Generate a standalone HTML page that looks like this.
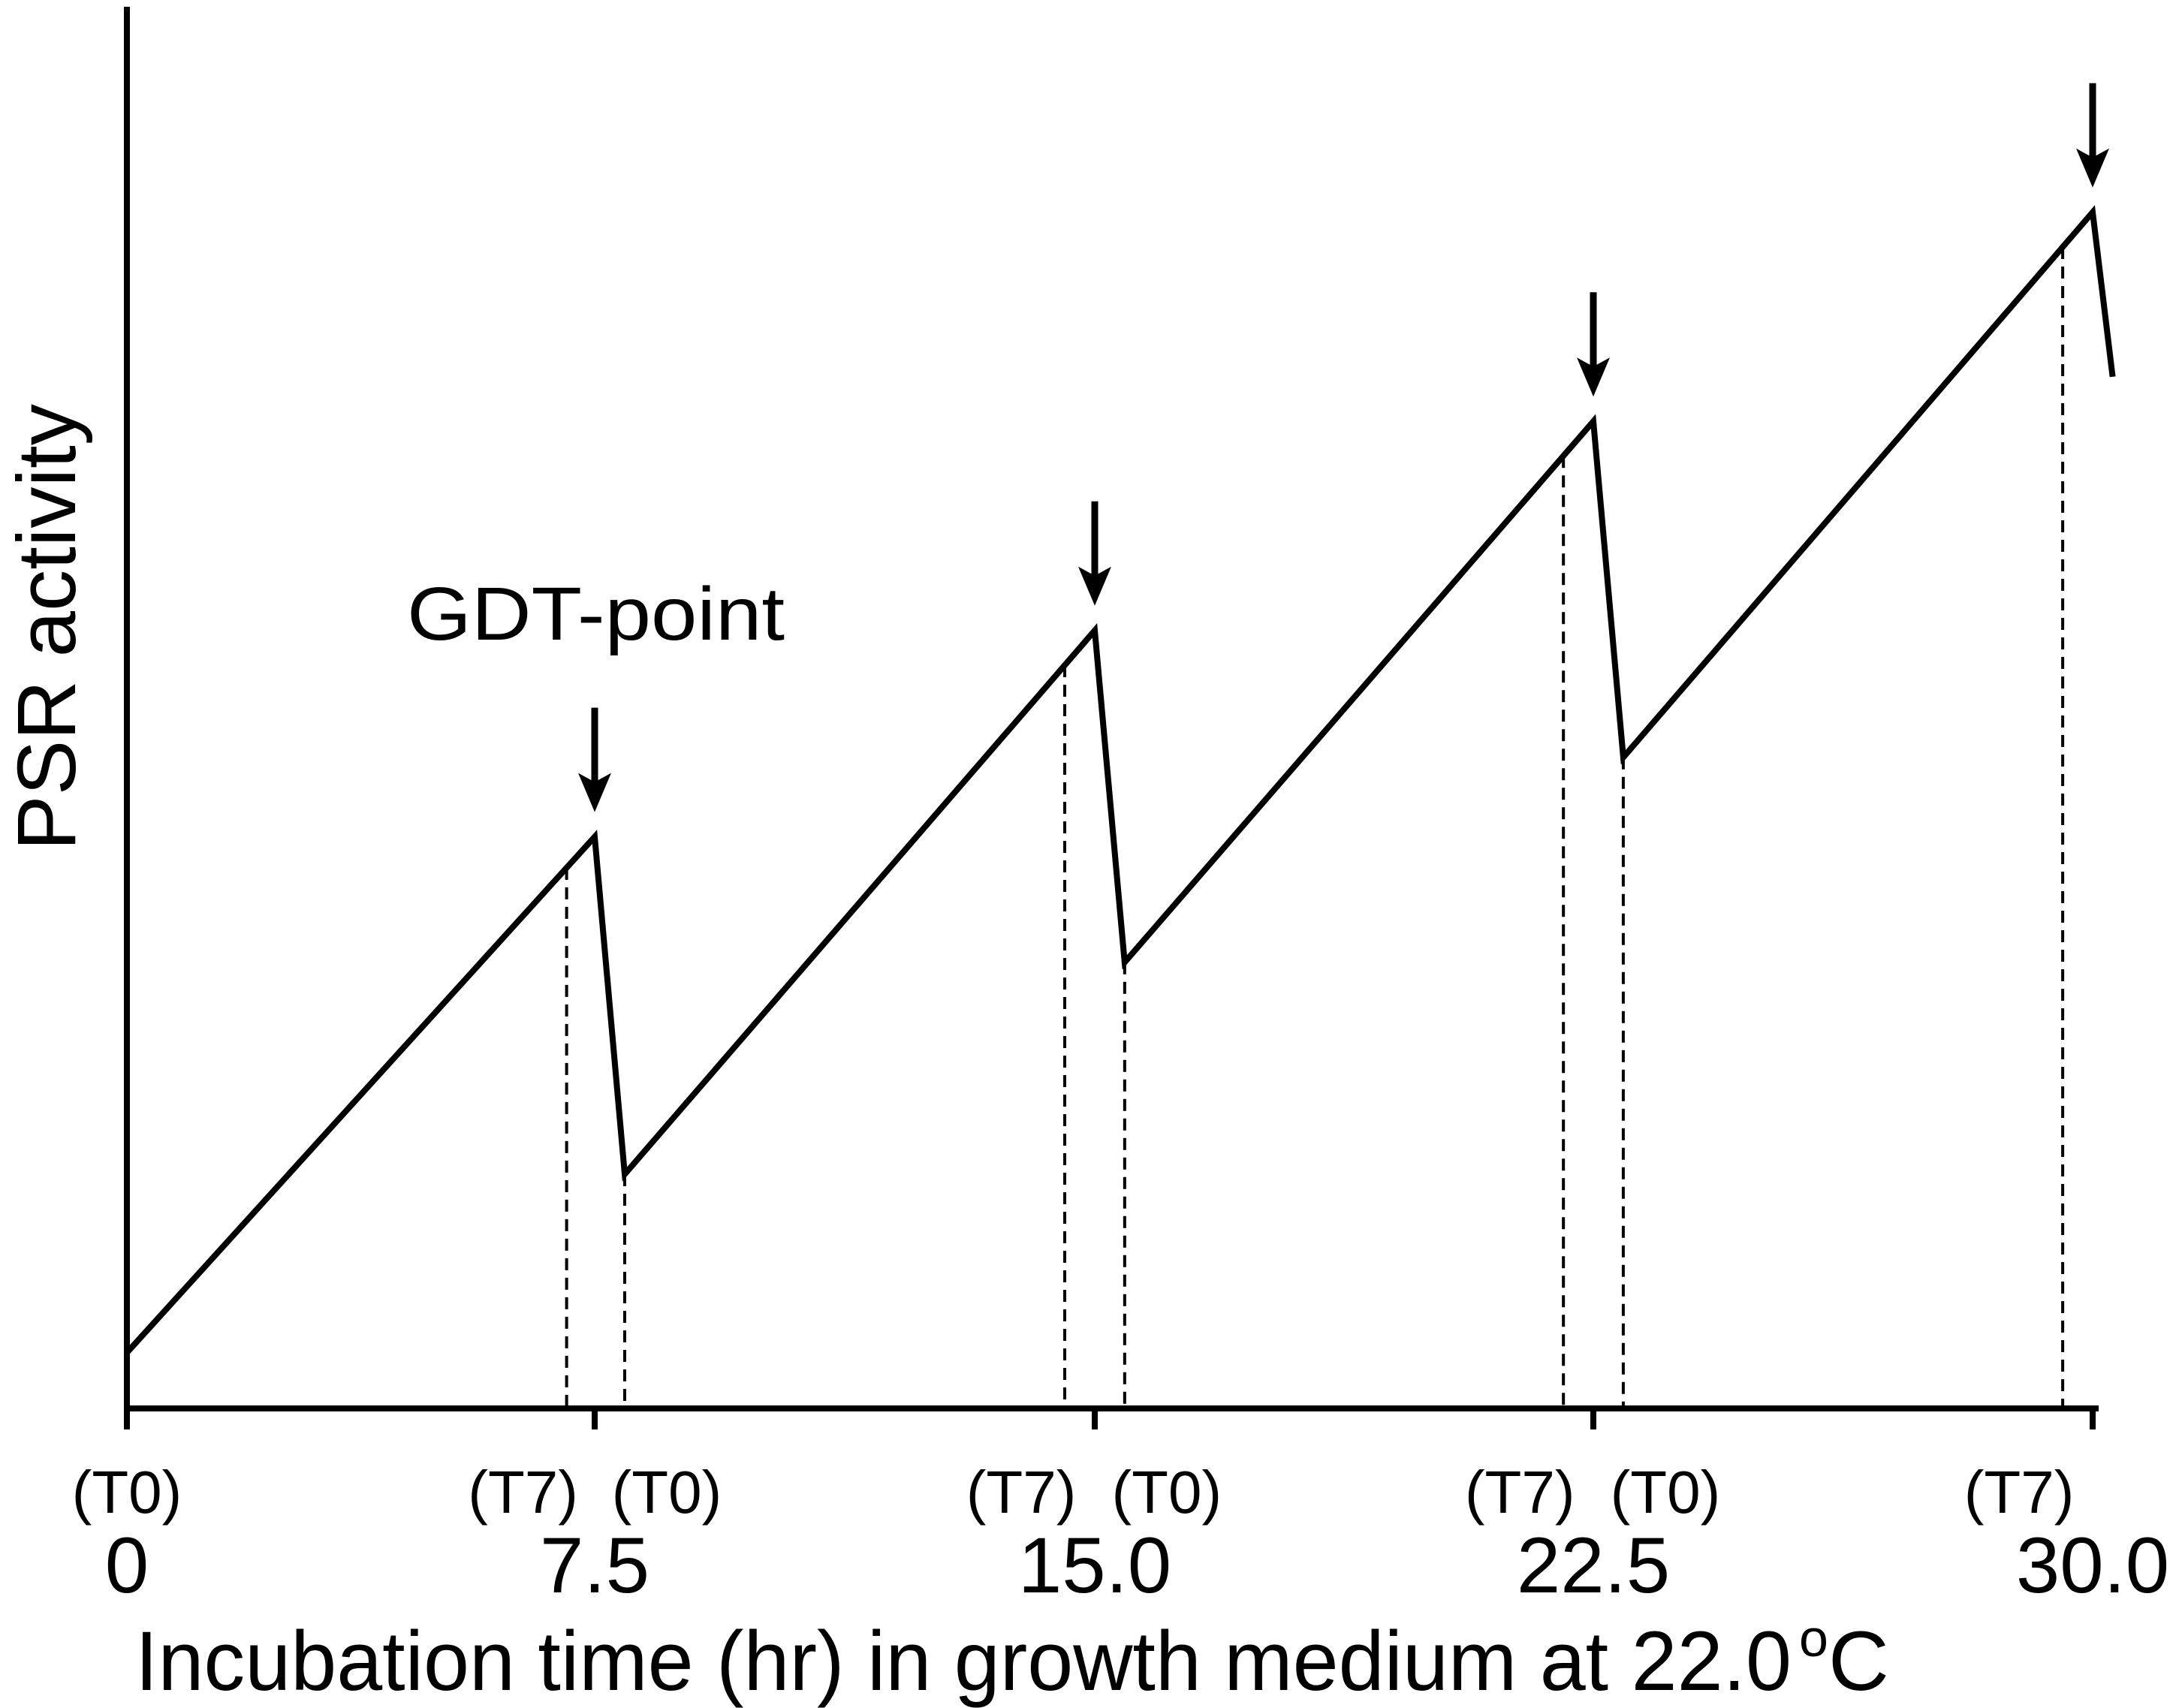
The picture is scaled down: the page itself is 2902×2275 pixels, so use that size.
<!DOCTYPE html>
<html><head><meta charset="utf-8"><style>
html,body{margin:0;padding:0;background:#fff;}
svg{display:block;font-family:"Liberation Sans",Arial,sans-serif;}
</style></head><body>
<svg id="chart" width="2902" height="2275" viewBox="0 0 2902 2275" xmlns="http://www.w3.org/2000/svg">
<g id="axes"></g>
<g id="marks"></g>
<g id="labels"></g>
</svg>
<script>
// ---- data ----
var tickHours = [0, 7.5, 15, 22.5, 30];
var tickLabels = ["0", "7.5", "15.0", "22.5", "30.0"];
var seriesTimes = [0, 7.5, 7.95, 15, 15.45, 22.5, 22.95, 30, 30.3];
var seriesValues = [4.0, 41.0, 16.8, 55.8, 32.0, 70.8, 46.7, 85.8, 74.0];
var t7Times = [7.05, 14.55, 22.05, 29.55];
var t0Times = [0, 7.95, 15.45, 22.95];
var gdtTimes = [7.5, 15, 22.5, 30];
var gdtValues = [41.0, 55.8, 70.8, 85.8];

// ---- scales ----
var tickPx = [169, 792, 1458, 2122, 2787];
function xs(t){
  for (var i=0;i<tickHours.length-1;i++){
    if (t<=tickHours[i+1] || i==tickHours.length-2){
      var a=tickHours[i], b=tickHours[i+1];
      return tickPx[i] + (t-a)/(b-a)*(tickPx[i+1]-tickPx[i]);
    }
  }
}
var AXIS_Y = 1876;
function ys(v){ return AXIS_Y - v*18.57; }
function valueAt(t){
  for (var i=0;i<seriesTimes.length-1;i++){
    if (t>=seriesTimes[i] && t<=seriesTimes[i+1]){
      var f=(t-seriesTimes[i])/(seriesTimes[i+1]-seriesTimes[i]);
      return seriesValues[i]+f*(seriesValues[i+1]-seriesValues[i]);
    }
  }
  return seriesValues[0];
}
var NS="http://www.w3.org/2000/svg";
function mk(tag, attrs, parent){
  var e=document.createElementNS(NS, tag);
  for (var k in attrs) e.setAttribute(k, attrs[k]);
  parent.appendChild(e); return e;
}
var axes=document.getElementById('axes'), marks=document.getElementById('marks'), labels=document.getElementById('labels');

// axes
var ya = mk('line',{x1:169,y1:9,x2:169,y2:1904,stroke:'#000','stroke-width':8},axes);


var xa = mk('line',{x1:165,y1:AXIS_Y,x2:2795,y2:AXIS_Y,stroke:'#000','stroke-width':8},axes);


for (var i=0;i<tickHours.length;i++){
  var x=xs(tickHours[i]);
  var tk=mk('line',{x1:x,y1:AXIS_Y,x2:x,y2:1904,stroke:'#000','stroke-width':8},axes);
  
  
  var tl=mk('text',{x:x,y:2121,'font-size':105,'text-anchor':'middle',fill:'#000'},labels);
  tl.textContent=tickLabels[i];
  
  
}

// dashed guides
function guide(t, name, lab, anchorDx){
  var x=xs(t);
  if (t>0){
    var d=mk('line',{x1:x,y1:ys(valueAt(t)),x2:x,y2:AXIS_Y,stroke:'#000','stroke-width':4,'stroke-dasharray':'16 10'},marks);
    
    
  }
  var l=mk('text',{x:x+anchorDx,y:2015,'font-size':80,'text-anchor':'middle',fill:'#000'},labels);
  l.textContent=lab;
  
  
}
for (var i=0;i<t7Times.length;i++) guide(t7Times[i],'t7','(T7)',-58);
for (var i=0;i<t0Times.length;i++) guide(t0Times[i],'t0','(T0)', i==0 ? 0 : 56);

// series line
var pts=[];
for (var i=0;i<seriesTimes.length;i++) pts.push(xs(seriesTimes[i]).toFixed(1)+','+ys(seriesValues[i]).toFixed(1));
var pl=mk('polyline',{points:pts.join(' '),fill:'none',stroke:'#000','stroke-width':8,'stroke-linejoin':'miter','stroke-miterlimit':10},marks);



// arrows
for (var i=0;i<gdtTimes.length;i++){
  var ax=xs(gdtTimes[i]), py=ys(gdtValues[i]);
  var tipY=py-33, shaftTop=py-172;
  var g=mk('g',{},marks);
  
  
  mk('line',{x1:ax,y1:shaftTop,x2:ax,y2:tipY-30,stroke:'#000','stroke-width':9},g);
  mk('path',{d:'M'+(ax-22)+','+(tipY-52)+' L'+ax+','+tipY+' L'+(ax+22)+','+(tipY-52)+' L'+ax+','+(tipY-40)+' Z',fill:'#000'},g);
}
</script>
<svg style="position:absolute;left:0;top:0" width="2902" height="2275" xmlns="http://www.w3.org/2000/svg" font-family="Liberation Sans, Arial, sans-serif">
<text x="542" y="852" font-size="100" textLength="503" lengthAdjust="spacingAndGlyphs">GDT-point</text>
<text transform="translate(100,1133) rotate(-90)" font-size="110" textLength="595" lengthAdjust="spacingAndGlyphs">PSR activity</text>
<text x="180" y="2251" font-size="112" textLength="2206" lengthAdjust="spacingAndGlyphs">Incubation time (hr) in growth medium at 22.0</text>
<text x="2396" y="2251" font-size="112"><tspan font-size="70" dy="-45">o</tspan><tspan dy="45">C</tspan></text>
</svg>
</body></html>
